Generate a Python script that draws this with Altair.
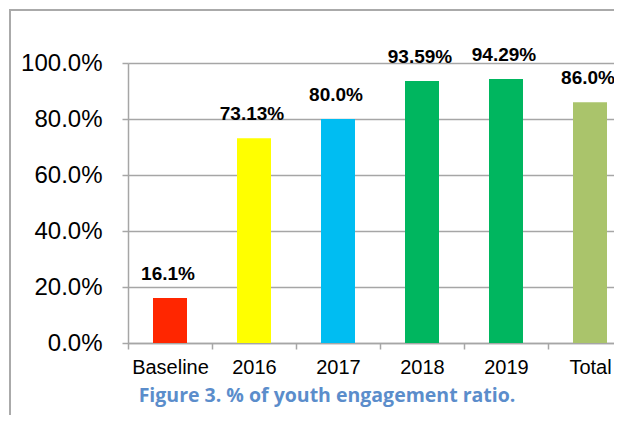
import altair as alt
import pandas as pd

categories = ["Baseline", "2016", "2017", "2018", "2019", "Total"]
values = [0.161, 0.7313, 0.80, 0.9359, 0.9429, 0.86]
labels = ["16.1%", "73.13%", "80.0%", "93.59%", "94.29%", "86.0%"]
colors = ["#ff2600", "#ffff00", "#00bdf2", "#00b65f", "#00b65f", "#aac46b"]
title_text = "Figure 3. % of youth engagement ratio."

df = pd.DataFrame({"cat": categories, "val": values, "lab": labels})

xscale = alt.Scale(domain=categories, range=[0, 504], paddingInner=0, paddingOuter=0)
yscale = alt.Scale(domain=[0, 1], nice=False)

base = alt.Chart(df)

bars = base.mark_bar(size=34).encode(
    x=alt.X("cat:N", scale=xscale, sort=categories,
            axis=alt.Axis(title=None, labelAngle=0, tickBand="extent", labelFontSize=20,
                          labelFont="Liberation Sans", labelColor="#000000", labelPadding=8,
                          tickSize=6, tickColor="#a6a6a6", tickWidth=1.5,
                          domainColor="#a6a6a6", domainWidth=1.5, grid=False)),
    y=alt.Y("val:Q", scale=yscale,
            axis=alt.Axis(title=None, values=[0, 0.2, 0.4, 0.6, 0.8, 1.0], format=".1%",
                          labelFontSize=24, labelFont="Liberation Sans", labelColor="#000000",
                          labelPadding=20, tickSize=6, tickColor="#a6a6a6", tickWidth=1.5,
                          domainColor="#a6a6a6", domainWidth=1.5,
                          grid=True, gridColor="#a6a6a6", gridWidth=1.5)),
    color=alt.Color("cat:N", scale=alt.Scale(domain=categories, range=colors), legend=None),
)

text = base.mark_text(fontSize=19, fontWeight="bold", font="Liberation Sans",
                      baseline="alphabetic", dy=-18, dx=-2, color="#000000").encode(
    x=alt.X("cat:N", scale=xscale, sort=categories),
    y=alt.Y("val:Q", scale=yscale),
    text="lab:N",
)

one = pd.DataFrame({"a": [0]})
frame_top = alt.Chart(one).mark_rect(fill="#aaaaaa", strokeWidth=0).encode(
    x=alt.value(-119), x2=alt.value(486), y=alt.value(-54), y2=alt.value(-52))
frame_left = alt.Chart(one).mark_rect(fill="#aaaaaa", strokeWidth=0).encode(
    x=alt.value(-119), x2=alt.value(-117), y=alt.value(-54), y2=alt.value(352))

title = alt.Chart(pd.DataFrame({"t": [title_text]})).mark_text(
    font="Open Sans", fontSize=19.5, fontWeight="bold", color="#5b8dcb", align="center",
    baseline="alphabetic"
).encode(x=alt.value(199), y=alt.value(339), text="t:N")

chart = alt.layer(frame_top, frame_left, bars, text, title).properties(
    width=486, height=280,
    autosize=alt.AutoSizeParams(type="none"),
    padding={"left": 120, "top": 55, "right": 0, "bottom": 80},
).configure_view(stroke=None)

chart.save("out.html", embed_options={"renderer": "svg", "actions": False})
